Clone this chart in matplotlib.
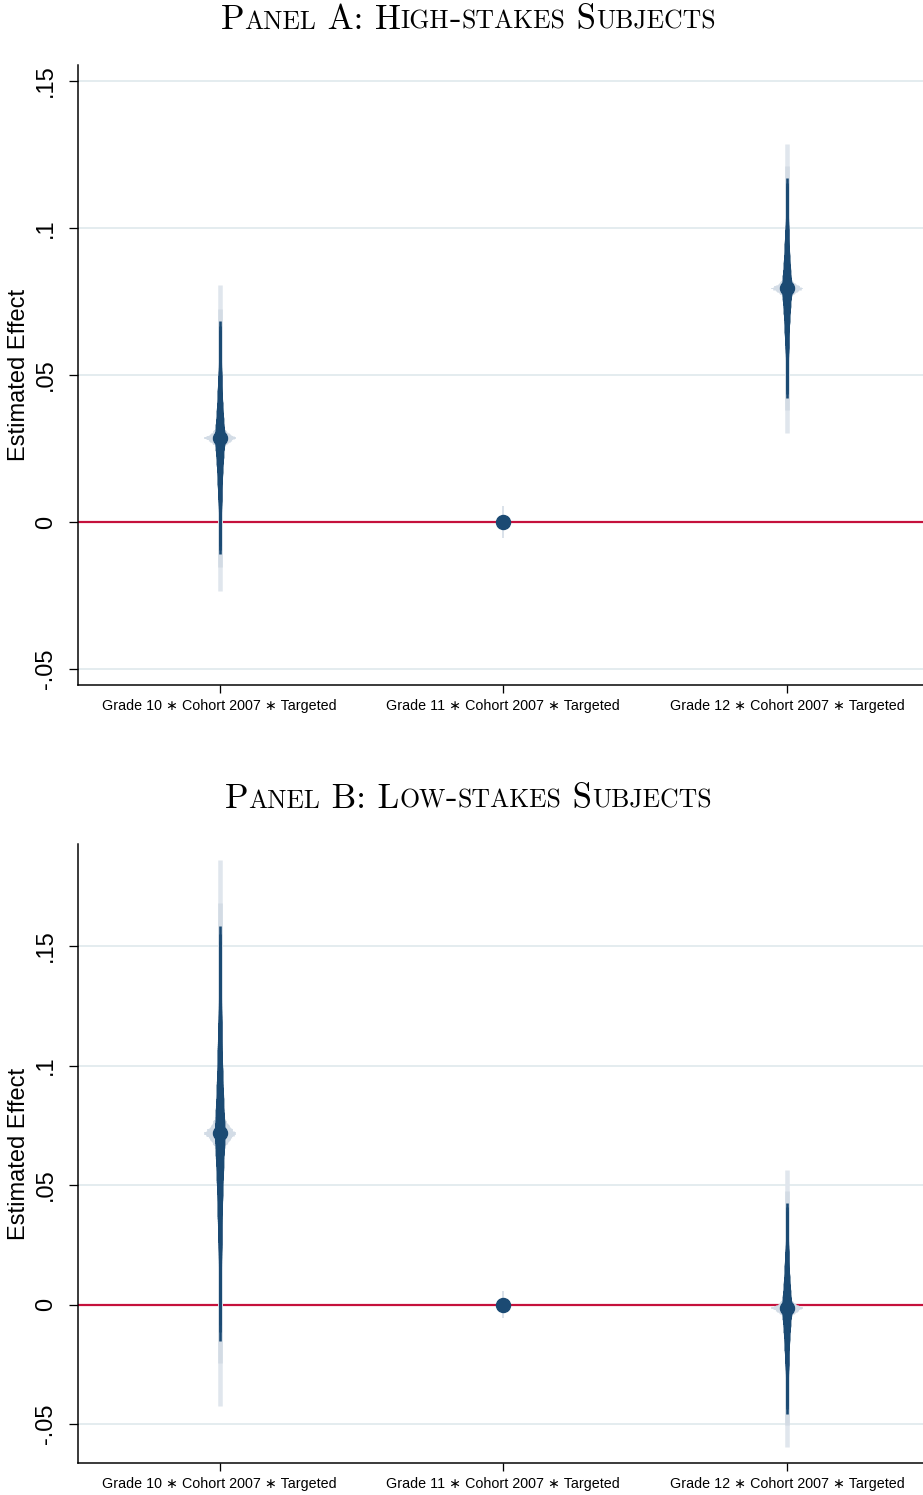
import numpy as np
import matplotlib
matplotlib.use("Agg")
import matplotlib.pyplot as plt
from matplotlib.offsetbox import TextArea, HPacker, AnchoredOffsetbox
from statistics import NormalDist

# estimates (coef, standard error)
labels = ["Grade 10 \u2217 Cohort 2007 \u2217 Targeted",
          "Grade 11 \u2217 Cohort 2007 \u2217 Targeted",
          "Grade 12 \u2217 Cohort 2007 \u2217 Targeted"]
coef_a = [0.0286, 0.0, 0.0795]
se_a = [0.0202, 0.0, 0.0191]
coef_b = [0.0717, 0.0, -0.0015]
se_b = [0.0443, 0.0, 0.0225]
yticks = [-0.05, 0, 0.05, 0.1, 0.15]
yticklabels = ["-.05", "0", ".05", ".1", ".15"]
titles = ["Panel A: High-stakes Subjects", "Panel B: Low-stakes Subjects"]

NAVY = "#1b4a73"
PX = 72 / 100.0  # points per pixel at dpi 100
sans = ["Liberation Sans", "DejaVu Sans"]

fig = plt.figure(figsize=(9.23, 14.95), dpi=100)


def zq(level):
    return NormalDist().inv_cdf(0.5 + level / 200.0)


def draw_coef(ax, x, b, s):
    if s == 0:
        ax.vlines(x, b - 0.0055, b + 0.0055, color="#dbe2ea", lw=2 * PX,
                  capstyle="butt", zorder=3)
        ax.plot(x, b, "o", ms=14 * PX, color=NAVY, mec=NAVY, zorder=6)
        return
    # light tails out to 99%
    ax.vlines(x, b - zq(99) * s, b + zq(99) * s, color="#e0e6ed",
              lw=4.5 * PX, capstyle="butt", zorder=3)
    ax.vlines(x, b - zq(97) * s, b + zq(97) * s, color="#d3dbe4",
              lw=4.5 * PX, capstyle="butt", zorder=3)
    # light halo around the point
    for lev in range(1, 30):
        w = 30 * (1 - lev / 30.0) ** 3.5 + 5
        z = zq(lev)
        ax.vlines(x, b - z * s, b + z * s, color="#d3dce6", lw=w * PX,
                  capstyle="butt", zorder=4)
    # dark body up to 95%
    for lev in range(1, 96):
        w = 2.6 + 8.0 * (1 - lev / 95.0) ** 1.6
        z = zq(lev)
        ax.vlines(x, b - z * s, b + z * s, color=NAVY, lw=w * PX,
                  capstyle="butt", zorder=5)
    ax.plot(x, b, "o", ms=14 * PX, color=NAVY, mec=NAVY, zorder=6)


def smallcaps_title(text, xc, yc, size):
    runs = []
    for ch in text:
        big = not ch.islower()
        if runs and runs[-1][1] == big:
            runs[-1][0] += ch
        else:
            runs.append([ch, big])
    kids = []
    for s, big in runs:
        sz = size if big else size * 0.74
        kids.append(TextArea(s.upper(), textprops=dict(fontsize=sz, family="cmr10",
                                                      color="black")))
    box = HPacker(children=kids, align="baseline", pad=0, sep=0)
    anc = AnchoredOffsetbox(loc="center", child=box, pad=0, borderpad=0,
                            frameon=False, bbox_to_anchor=(xc, yc),
                            bbox_transform=fig.transFigure)
    fig.add_artist(anc)


def panel(rect, coefs, ses, ylim, title, title_y):
    ax = fig.add_axes(rect)
    xs = np.arange(1, len(coefs) + 1)
    ax.set_xlim(0.5, 3.48)
    ax.set_ylim(*ylim)
    ax.set_yticks(yticks)
    ax.set_yticklabels(yticklabels, rotation=90, va="center", family=sans,
                       fontsize=17)
    ax.set_xticks(xs)
    ax.set_xticklabels(labels, family=sans, fontsize=10.3)
    ax.tick_params(axis="y", direction="out", length=9 * PX, width=1.3 * PX,
                   pad=8.5)
    ax.tick_params(axis="x", direction="out", length=8 * PX, width=1.3 * PX,
                   pad=4)
    ax.grid(axis="y", color="#e4ecef", lw=2 * PX, zorder=0)
    ax.set_axisbelow(True)
    for sp in ["top", "right"]:
        ax.spines[sp].set_visible(False)
    for sp in ["left", "bottom"]:
        ax.spines[sp].set_linewidth(1.5 * PX)
    ax.axhline(0, color="#c5113c", lw=2.2 * PX, zorder=2)
    for x, b, s in zip(xs, coefs, ses):
        draw_coef(ax, x, b, s)
    ax.set_ylabel("Estimated Effect", family=sans, fontsize=17)
    ax.yaxis.set_label_coords(-0.0568, 0.5)
    smallcaps_title(title, 468 / 923.0, title_y, 25)
    return ax


panel([78 / 923.0, 1 - 685 / 1495.0, 845 / 923.0, 620 / 1495.0],
      coef_a, se_a, (-0.0554, 0.1554), titles[0], 1 - 20 / 1495.0)
panel([78 / 923.0, 1 - 1463 / 1495.0, 845 / 923.0, 619 / 1495.0],
      coef_b, se_b, (-0.0663, 0.1927), titles[1], 1 - 799 / 1495.0)

fig.savefig("out.png", dpi=100)
